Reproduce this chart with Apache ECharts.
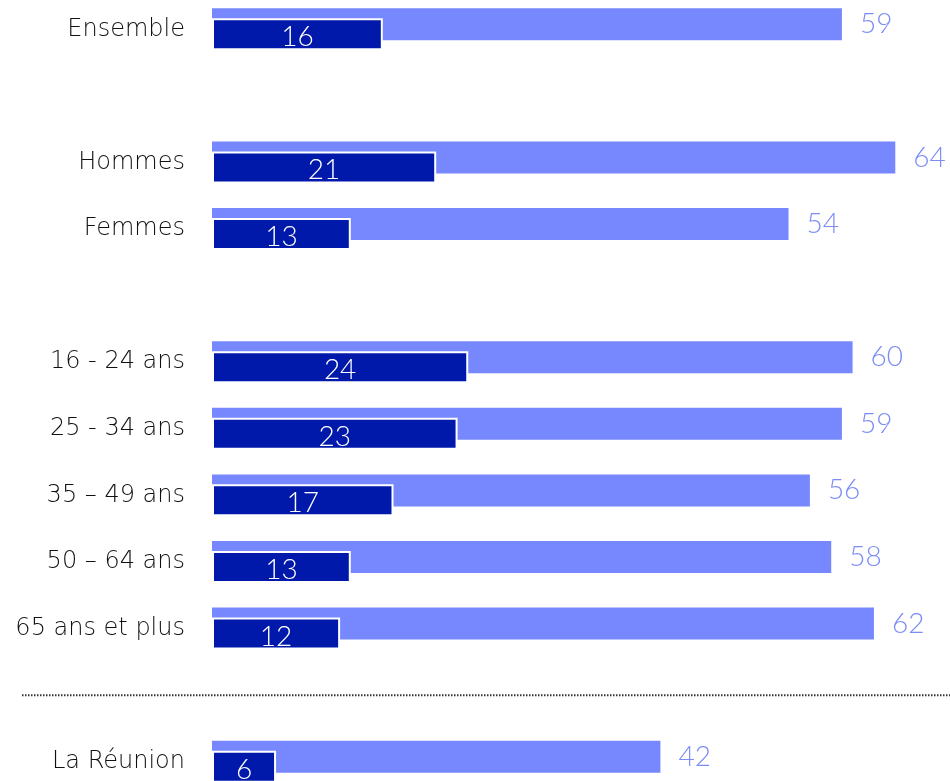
<!DOCTYPE html>
<html>
<head>
<meta charset="utf-8">
<script src="https://cdn.jsdelivr.net/npm/echarts@6/dist/echarts.min.js"></script>
<style>
  html, body { margin: 0; padding: 0; background: #fff; }
  #chart { width: 950px; height: 781px; }
</style>
</head>
<body>
<div id="chart"></div>
<script>
// categories (blank slots keep the gaps between groups)
const categories = ['Ensemble', ' ', 'Hommes', 'Femmes', '  ', '16 - 24 ans', '25 - 34 ans', '35 – 49 ans', '50 – 64 ans', '65 ans et plus', '   ', 'La Réunion']
const lightValues = [59, null, 64, 54, null, 60, 59, 56, 58, 62, null, 42]
const darkValues = [16, null, 21, 13, null, 24, 23, 17, 13, 12, null, 6]
const separatorSlot = '   '

const labelFont = '"DejaVu Sans", sans-serif'
const numFont = 'Lato, "Noto Sans", sans-serif'

let myChart = echarts.init(document.getElementById('chart'))
myChart.setOption({
  animation: false,
  grid: {
    left: 212,
    top: -4,
    width: 726,
    height: 799,
    outerBoundsMode: 'none'
  },
  xAxis: {
    type: 'value',
    min: 0,
    max: 68,
    show: false
  },
  yAxis: {
    type: 'category',
    inverse: true,
    data: categories,
    axisLine: { show: false },
    axisTick: { show: false },
    splitLine: { show: false },
    axisLabel: {
      margin: 27,
      fontSize: 24,
      fontWeight: 200,
      color: '#111111',
      fontFamily: labelFont
    }
  },
  series: [
    {
      type: 'bar',
      data: lightValues,
      barWidth: 32,
      barGap: '-69%',
      itemStyle: { color: '#7788ff' },
      label: {
        show: true,
        position: 'right',
        distance: 18,
        fontSize: 28,
        fontWeight: 300,
        color: '#7b8cf5',
        fontFamily: numFont
      }
    },
    {
      type: 'bar',
      data: darkValues,
      barWidth: 32,
      itemStyle: {
        color: '#0019aa',
        borderColor: '#ffffff',
        borderWidth: 2
      },
      label: {
        show: true,
        position: 'inside',
        offset: [0, 3],
        fontSize: 28,
        fontWeight: 300,
        color: '#ffffff',
        fontFamily: numFont
      }
    }
  ]
})

// dotted separator before La Réunion
let sepY = myChart.convertToPixel({ yAxisIndex: 0 }, separatorSlot)
myChart.setOption({
  graphic: [
    {
      type: 'line',
      shape: { x1: 22, y1: sepY, x2: 950, y2: sepY },
      style: { stroke: '#333', lineWidth: 2, lineDash: [1.5, 1.5] }
    }
  ]
})
</script>
</body>
</html>
